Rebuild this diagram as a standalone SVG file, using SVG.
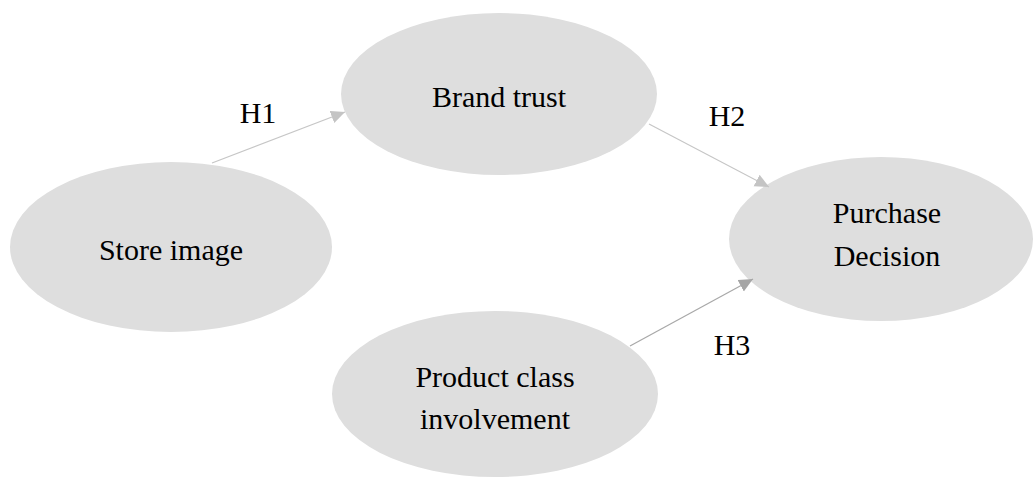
<svg xmlns="http://www.w3.org/2000/svg" width="1034" height="478" viewBox="0 0 1034 478">
  <style>
    .node { fill: #dedede; stroke: none; }
    .label { font-family: "Liberation Serif", "Times New Roman", serif; font-size: 30px; fill: #000; text-anchor: middle; }
    .edge-light { stroke: #c6c6c6; stroke-width: 1.2; fill: none; }
    .edge-dark { stroke: #a8a8a8; stroke-width: 1.2; fill: none; }
  </style>
  <defs>
    <marker id="head-light" markerUnits="userSpaceOnUse" markerWidth="15" markerHeight="14" refX="14" refY="6.5" orient="auto">
      <path d="M0,0 L14,6.5 L0,13 Z" fill="#c4c4c4"/>
    </marker>
    <marker id="head-dark" markerUnits="userSpaceOnUse" markerWidth="15" markerHeight="14" refX="14" refY="6.5" orient="auto">
      <path d="M0,0 L14,6.5 L0,13 Z" fill="#a6a6a6"/>
    </marker>
  </defs>

  <rect width="1034" height="478" fill="#ffffff"/>

  <g id="brand-trust">
    <ellipse class="node" cx="499" cy="94" rx="158" ry="81"/>
    <text class="label" x="499" y="107">Brand trust</text>
  </g>

  <g id="store-image">
    <ellipse class="node" cx="171" cy="247" rx="161" ry="85"/>
    <text class="label" x="171" y="260">Store image</text>
  </g>

  <g id="purchase-decision">
    <ellipse class="node" cx="881" cy="239" rx="152" ry="82"/>
    <text class="label" x="887" y="223">Purchase</text>
    <text class="label" x="887" y="266">Decision</text>
  </g>

  <g id="product-class-involvement">
    <ellipse class="node" cx="495" cy="394" rx="163" ry="83"/>
    <text class="label" x="495" y="387">Product class</text>
    <text class="label" x="495" y="429">involvement</text>
  </g>

  <g id="connectors">
    <line class="edge-light" x1="212" y1="163" x2="345" y2="112" marker-end="url(#head-light)"/>
    <line class="edge-light" x1="649" y1="124" x2="769" y2="187" marker-end="url(#head-light)"/>
    <line class="edge-dark" x1="630" y1="346" x2="753" y2="279" marker-end="url(#head-dark)"/>
    <text class="label" x="258" y="123">H1</text>
    <text class="label" x="727" y="126">H2</text>
    <text class="label" x="732" y="355">H3</text>
  </g>
</svg>
